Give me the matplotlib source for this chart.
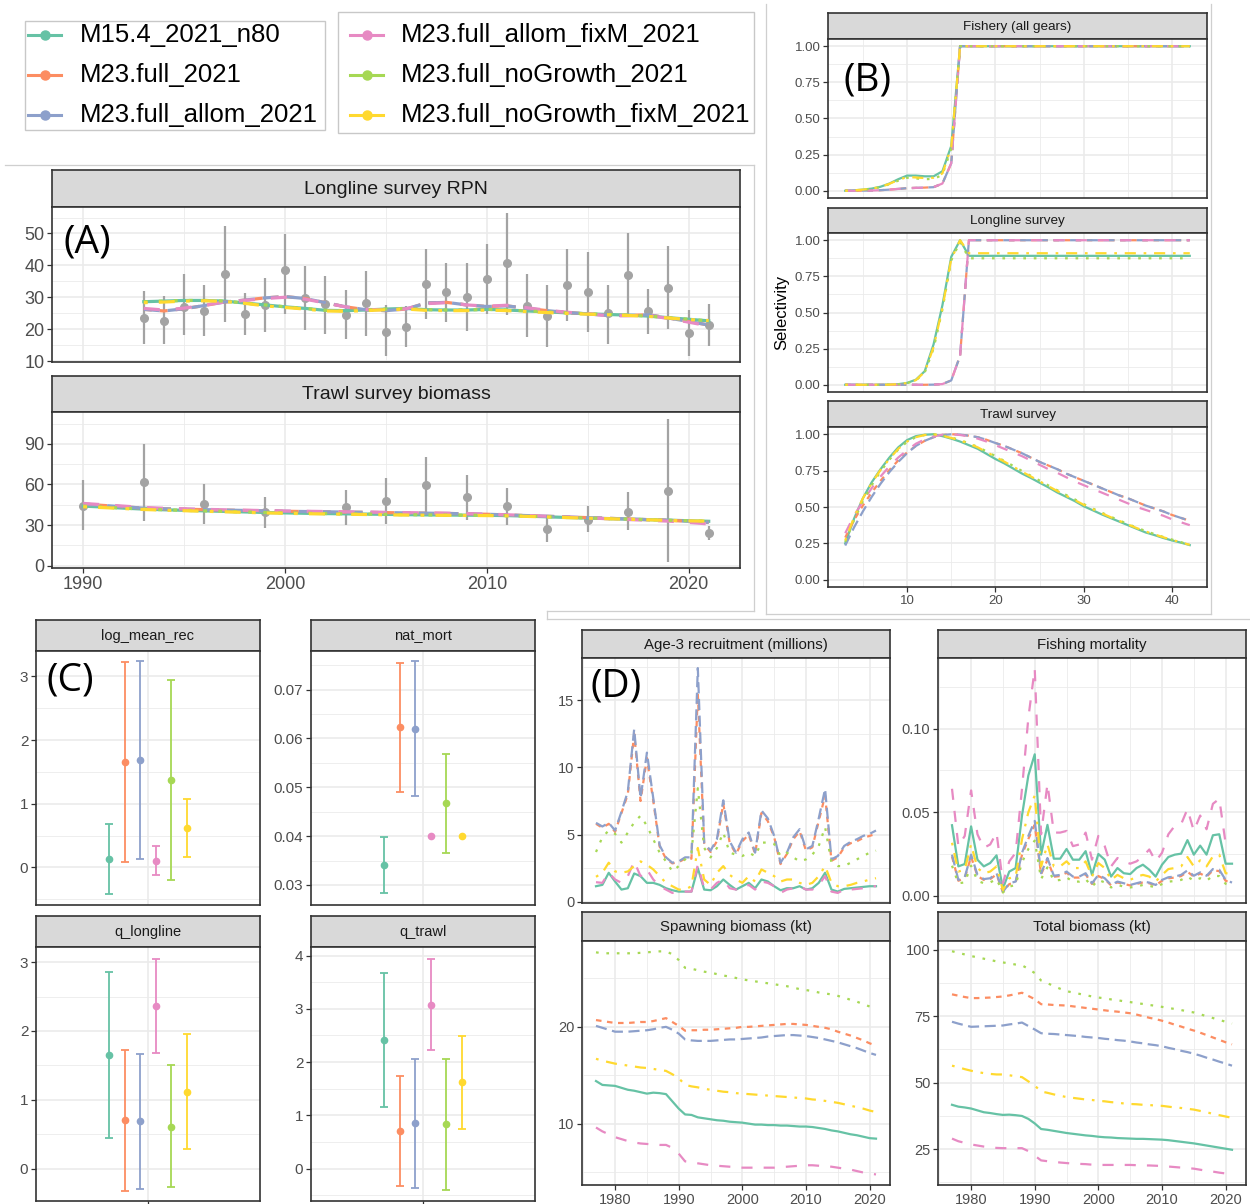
import numpy as np
import matplotlib.pyplot as plt
from matplotlib.patches import Rectangle
from matplotlib.ticker import FormatStrFormatter

plt.rcParams['font.family'] = ['Liberation Sans', 'DejaVu Sans']

# ---- models ----
models = ['M15.4_2021_n80', 'M23.full_2021', 'M23.full_allom_2021',
          'M23.full_allom_fixM_2021', 'M23.full_noGrowth_2021', 'M23.full_noGrowth_fixM_2021']
COLORS = ['#66C2A5', '#FC8D62', '#8DA0CB', '#E78AC3', '#A6D854', '#FFD92F']
STYLES = ['-', (0, (2.5, 2.5)), (0, (5, 2.5)), (0, (5, 5)), (0, (1.2, 3.5)), (0, (1.2, 3.5, 5, 3.5))]

# ---- (A) index fits ----
rpn_years = list(range(1993, 2022))
rpn_obs = [23.6, 22.7, 27.0, 25.7, 37.3, 24.6, 27.5, 38.4, 29.9, 28.0, 24.5, 28.1, 19.0, 20.8, 34.1,
           31.5, 30.1, 35.7, 40.6, 27.3, 24.1, 33.8, 31.8, 25.0, 37.0, 25.7, 32.9, 18.8, 21.2]
rpn_lo = [15.2, 15.2, 18.1, 17.8, 22.3, 18.1, 19.2, 24.8, 19.7, 18.6, 17.0, 18.0, 11.7, 14.3, 23.1,
          22.2, 19.5, 24.6, 24.4, 17.5, 14.3, 22.6, 19.2, 15.2, 24.1, 18.5, 19.9, 11.5, 14.6]
rpn_hi = [32.0, 30.4, 37.3, 33.9, 52.2, 31.2, 35.9, 49.9, 39.7, 36.7, 32.2, 38.3, 27.5, 27.3, 45.2,
          40.7, 40.7, 46.6, 56.5, 37.3, 33.8, 45.0, 44.1, 34.0, 50.2, 32.7, 46.0, 26.0, 27.8]
rpn_fit_base = [28.6, 28.8, 29.0, 29.0, 28.8, 28.2, 27.6, 27.0, 26.5, 25.9, 25.8, 26.0, 26.3, 26.5, 26.1,
                26.0, 26.0, 26.2, 26.0, 25.7, 25.4, 25.1, 24.8, 24.6, 24.4, 24.1, 23.6, 23.1, 22.6]
rpn_fit_fixm = [28.3, 28.5, 28.8, 28.9, 28.7, 28.1, 27.3, 26.8, 26.3, 25.7, 25.6, 25.8, 26.1, 26.3, 25.9,
                25.8, 25.8, 26.0, 25.8, 25.5, 25.2, 24.9, 24.7, 24.5, 24.3, 24.0, 23.5, 23.0, 22.7]
rpn_fit_full = [26.2, 25.7, 26.4, 27.4, 28.5, 29.1, 29.8, 30.2, 29.6, 28.3, 27.0, 26.1, 25.8, 26.3, 28.2,
                28.4, 27.6, 27.1, 27.3, 26.5, 25.8, 25.2, 24.8, 24.3, 24.3, 24.5, 23.5, 22.4, 21.3]
rpn_fit_allomfix = [26.5, 26.0, 26.6, 27.5, 28.5, 29.0, 29.6, 30.0, 29.4, 28.2, 27.0, 26.2, 26.0, 26.4, 28.0,
                    28.3, 27.6, 27.2, 27.5, 26.7, 25.9, 25.3, 24.8, 24.2, 24.2, 24.4, 23.3, 22.2, 21.0]
rpn_fits = [rpn_fit_base, rpn_fit_full, rpn_fit_full, rpn_fit_allomfix, rpn_fit_base, rpn_fit_fixm]

tw_years = [1990, 1993, 1996, 1999, 2003, 2005, 2007, 2009, 2011, 2013, 2015, 2017, 2019, 2021]
tw_obs = [44.3, 61.8, 45.8, 40.0, 43.1, 47.8, 59.9, 50.7, 43.8, 27.3, 34.0, 39.9, 55.4, 24.1]
tw_lo = [26.6, 33.2, 31.0, 27.8, 29.8, 31.0, 38.9, 34.0, 29.8, 17.5, 24.6, 26.1, 2.7, 19.2]
tw_hi = [63.0, 90.0, 60.6, 50.7, 56.2, 64.8, 80.1, 67.2, 57.4, 37.0, 43.8, 54.2, 108.4, 29.6]
tw_fit_years = list(range(1990, 2022))
tw_fit_base = [44.0, 43.3, 42.5, 41.8, 41.3, 40.9, 40.5, 40.1, 39.7, 39.3, 39.0, 38.7, 38.5, 38.3, 38.1, 37.9,
               37.7, 37.5, 37.4, 37.3, 37.2, 37.0, 36.6, 36.1, 35.6, 35.2, 34.8, 34.4, 34.0, 33.6, 33.2, 32.8]
tw_fit_fixm = [43.5, 42.9, 42.2, 41.5, 41.0, 40.6, 40.2, 39.8, 39.4, 39.0, 38.7, 38.4, 38.2, 38.0, 37.8, 37.6,
               37.4, 37.3, 37.2, 37.1, 37.0, 36.8, 36.4, 36.0, 35.5, 35.1, 34.7, 34.3, 33.9, 33.5, 33.1, 32.9]
tw_fit_full = [45.5, 44.5, 43.5, 42.5, 42.0, 41.7, 41.4, 41.1, 40.8, 40.5, 40.2, 40.0, 39.8, 39.6, 39.4, 39.2,
               39.0, 38.8, 38.6, 38.3, 38.0, 37.5, 37.0, 36.5, 36.0, 35.5, 35.0, 34.5, 34.0, 33.5, 32.8, 32.0]
tw_fit_allomfix = [46.0, 45.0, 44.0, 43.0, 42.4, 42.0, 41.6, 41.3, 41.0, 40.7, 40.4, 40.2, 40.0, 39.8, 39.6, 39.4,
                   39.2, 39.0, 38.8, 38.5, 38.1, 37.6, 37.1, 36.5, 35.9, 35.3, 34.7, 34.1, 33.5, 32.9, 32.0, 30.8]
tw_fits = [tw_fit_base, tw_fit_full, tw_fit_full, tw_fit_allomfix, tw_fit_base, tw_fit_fixm]

# ---- (B) selectivity, ages 3-42 ----
ages = list(range(3, 43))
fs_m15 = [0.0, 0.003, 0.008, 0.015, 0.028, 0.05, 0.08, 0.105, 0.105, 0.1, 0.1, 0.135, 0.31, 1.0] + [1.0] * 26
fs_nog = [0.0, 0.003, 0.007, 0.014, 0.025, 0.045, 0.07, 0.09, 0.085, 0.08, 0.082, 0.11, 0.29, 1.0] + [1.0] * 26
fs_nogfix = [0.0, 0.003, 0.008, 0.015, 0.027, 0.048, 0.075, 0.095, 0.092, 0.088, 0.09, 0.12, 0.3, 1.0] + [1.0] * 26
fs_full = [0.0, 0.0, 0.001, 0.002, 0.004, 0.008, 0.013, 0.018, 0.02, 0.022, 0.025, 0.05, 0.19, 1.0] + [1.0] * 26
sel_fishery = [fs_m15, fs_full, fs_full, fs_full, fs_nog, fs_nogfix]

ll_m15 = [0, 0, 0, 0, 0, 0.001, 0.004, 0.013, 0.035, 0.094, 0.28, 0.55, 0.885, 1.0] + [0.892] * 26
ll_nog = [0, 0, 0, 0, 0, 0.001, 0.003, 0.011, 0.03, 0.085, 0.25, 0.52, 0.86, 0.99] + [0.875] * 26
ll_nogfix = [0, 0, 0, 0, 0, 0.001, 0.004, 0.012, 0.032, 0.09, 0.26, 0.53, 0.87, 1.0] + [0.91] * 26
ll_full = [0, 0, 0, 0, 0, 0, 0, 0, 0, 0, 0.001, 0.005, 0.03, 0.2] + [1.0] * 26
sel_longline = [ll_m15, ll_full, ll_full, ll_full, ll_nog, ll_nogfix]

ts_m15 = [0.25, 0.42, 0.56, 0.67, 0.76, 0.84, 0.91, 0.96, 0.987, 0.997,
          1.0, 0.987, 0.97, 0.95, 0.925, 0.9, 0.865, 0.83, 0.8, 0.765,
          0.73, 0.7, 0.667, 0.635, 0.6, 0.57, 0.54, 0.505, 0.478, 0.45,
          0.425, 0.4, 0.375, 0.35, 0.325, 0.307, 0.287, 0.27, 0.255, 0.238]
ts_full = [0.29, 0.41, 0.51, 0.6, 0.68, 0.755, 0.82, 0.875, 0.92, 0.955,
           0.98, 0.995, 1.0, 0.998, 0.99, 0.98, 0.962, 0.94, 0.92, 0.895,
           0.87, 0.84, 0.81, 0.785, 0.76, 0.73, 0.705, 0.68, 0.655, 0.63,
           0.605, 0.58, 0.56, 0.535, 0.51, 0.49, 0.47, 0.445, 0.425, 0.405]
ts_allom = [0.235, 0.36, 0.47, 0.57, 0.66, 0.74, 0.81, 0.87, 0.92, 0.955,
            0.98, 0.995, 1.0, 0.998, 0.99, 0.98, 0.962, 0.94, 0.92, 0.895,
            0.87, 0.84, 0.81, 0.785, 0.76, 0.73, 0.705, 0.68, 0.655, 0.63,
            0.605, 0.58, 0.56, 0.535, 0.51, 0.49, 0.47, 0.445, 0.425, 0.405]
ts_allomfix = [0.32, 0.44, 0.54, 0.63, 0.71, 0.78, 0.84, 0.89, 0.935, 0.965,
               0.985, 0.997, 1.0, 0.995, 0.985, 0.97, 0.95, 0.925, 0.9, 0.875,
               0.85, 0.82, 0.79, 0.76, 0.735, 0.705, 0.675, 0.65, 0.625, 0.6,
               0.575, 0.55, 0.525, 0.5, 0.48, 0.46, 0.44, 0.415, 0.395, 0.375]
ts_nog = [0.26, 0.41, 0.54, 0.65, 0.745, 0.825, 0.895, 0.948, 0.98, 0.995,
          1.0, 0.992, 0.978, 0.96, 0.938, 0.913, 0.882, 0.85, 0.817, 0.783,
          0.748, 0.715, 0.682, 0.648, 0.615, 0.583, 0.552, 0.52, 0.49, 0.462,
          0.435, 0.408, 0.383, 0.358, 0.335, 0.314, 0.294, 0.276, 0.258, 0.241]
ts_nogfix = [0.27, 0.43, 0.56, 0.665, 0.755, 0.83, 0.9, 0.95, 0.98, 0.995,
             1.0, 0.99, 0.975, 0.958, 0.935, 0.91, 0.878, 0.845, 0.812, 0.778,
             0.743, 0.71, 0.677, 0.643, 0.61, 0.578, 0.547, 0.515, 0.486, 0.458,
             0.431, 0.405, 0.38, 0.355, 0.332, 0.312, 0.292, 0.274, 0.257, 0.24]
sel_trawl = [ts_m15, ts_full, ts_allom, ts_allomfix, ts_nog, ts_nogfix]

# ---- (C) parameter estimates with intervals ----
lmr_est = [0.13, 1.65, 1.69, 0.10, 1.37, 0.62]
lmr_lo = [-0.41, 0.09, 0.14, -0.12, -0.19, 0.16]
lmr_hi = [0.68, 3.22, 3.24, 0.33, 2.94, 1.08]
nm_est = [0.0341, 0.0623, 0.0620, 0.0400, 0.0467, 0.0400]
nm_lo = [0.0283, 0.0491, 0.0483, np.nan, 0.0365, np.nan]
nm_hi = [0.0398, 0.0755, 0.0758, np.nan, 0.0569, np.nan]
qll_est = [1.65, 0.71, 0.69, 2.37, 0.61, 1.11]
qll_lo = [0.44, -0.32, -0.29, 1.68, -0.27, 0.28]
qll_hi = [2.86, 1.73, 1.67, 3.05, 1.50, 1.95]
qtw_est = [2.41, 0.71, 0.85, 3.07, 0.83, 1.62]
qtw_lo = [1.15, -0.32, -0.37, 2.22, -0.41, 0.75]
qtw_hi = [3.68, 1.74, 2.06, 3.94, 2.06, 2.48]

# ---- (D) derived time series, 1977-2021 ----
years = list(range(1977, 2022))
rec_m15 = [1.15, 1.25, 2.15, 1.5, 0.9, 1.0, 2.1, 1.9, 1.4, 1.4, 1.25, 1.0, 0.85, 0.75, 0.75, 0.75, 2.5, 0.9, 0.85, 1.15,
           1.65, 1.25, 0.9, 1.15, 1.4, 1.0, 1.65, 1.5, 1.15, 0.85, 1.0, 1.0, 1.15, 0.9, 1.0, 1.4, 2.15, 0.9, 0.75, 0.95,
           1.0, 1.05, 1.1, 1.15, 1.15]
rec_full = [5.8, 5.5, 5.8, 5.2, 6.6, 8.0, 12.5, 7.5, 10.7, 7.5, 4.1, 3.2, 2.85, 2.95, 3.2, 3.2, 15.5, 4.3, 3.7, 4.5,
            7.3, 4.4, 3.55, 4.5, 5.0, 3.55, 6.6, 6.0, 4.8, 2.8, 3.55, 4.65, 5.25, 3.8, 4.05, 6.0, 7.9, 3.05, 3.3, 4.05,
            4.35, 4.5, 4.75, 4.9, 5.05]
rec_allom = [5.87, 5.6, 5.87, 5.3, 6.7, 8.2, 12.85, 7.7, 11.1, 7.7, 4.2, 3.3, 2.9, 3.0, 3.3, 3.3, 17.4, 4.4, 3.8, 4.65,
             7.55, 4.5, 3.65, 4.65, 5.15, 3.65, 6.8, 6.2, 4.9, 2.9, 3.65, 4.8, 5.4, 3.9, 4.15, 6.2, 8.4, 3.15, 3.4, 4.15,
             4.45, 4.65, 4.9, 5.05, 5.3]
rec_allomfix = [1.45, 1.4, 2.15, 1.65, 1.4, 1.9, 3.0, 1.9, 2.4, 1.65, 1.15, 0.9, 0.65, 0.75, 0.75, 0.75, 2.75, 1.0, 0.9, 1.4,
                1.65, 1.0, 0.9, 1.0, 1.25, 0.9, 1.5, 1.4, 1.15, 0.65, 0.9, 1.0, 1.15, 0.9, 0.9, 1.25, 1.9, 0.75, 0.65, 0.9,
                0.9, 0.95, 1.0, 1.15, 1.15]
rec_nog = [3.7, 4.8, 5.3, 5.05, 4.4, 5.15, 5.9, 6.4, 5.65, 4.65, 3.65, 3.0, 2.25, 2.65, 3.15, 3.65, 8.45, 4.0, 3.3, 4.0,
           5.15, 3.65, 3.5, 3.4, 3.65, 3.4, 4.4, 4.4, 4.3, 3.4, 3.65, 3.3, 3.0, 3.15, 3.5, 4.15, 5.55, 2.9, 2.65, 2.65,
           2.9, 3.15, 3.4, 3.65, 3.8]
rec_nogfix = [1.85, 2.15, 2.9, 2.25, 2.15, 2.25, 2.65, 3.0, 2.75, 2.4, 1.9, 1.4, 1.15, 0.9, 0.9, 1.15, 4.0, 1.65, 1.25, 2.15,
              2.65, 2.0, 1.65, 1.4, 1.9, 1.5, 2.4, 2.15, 1.9, 1.5, 1.65, 1.65, 1.4, 1.25, 1.4, 1.9, 2.65, 1.4, 1.15, 1.15,
              1.25, 1.4, 1.5, 1.65, 1.75]
recruitment = [rec_m15, rec_full, rec_allom, rec_allomfix, rec_nog, rec_nogfix]

f_m15 = [0.0422, 0.0176, 0.019, 0.0415, 0.0216, 0.0176, 0.0196, 0.0242, 0.0044, 0.0145,
         0.0166, 0.048, 0.072, 0.0846, 0.0246, 0.0424, 0.0222, 0.0222, 0.028, 0.0216,
         0.0216, 0.0267, 0.0125, 0.025, 0.0216, 0.0115, 0.0166, 0.0135, 0.013, 0.0166,
         0.0186, 0.0156, 0.0115, 0.0186, 0.0232, 0.0246, 0.0252, 0.0333, 0.0246, 0.03,
         0.0246, 0.0362, 0.0368, 0.0192, 0.0192]
f_full = [0.0235, 0.009, 0.0105, 0.0235, 0.0118, 0.0095, 0.01, 0.0128, 0.0022, 0.007,
          0.008, 0.0245, 0.034, 0.0425, 0.0128, 0.0215, 0.0114, 0.0118, 0.0138, 0.0109,
          0.0109, 0.0128, 0.0071, 0.0118, 0.01, 0.0062, 0.008, 0.0071, 0.0062, 0.0071,
          0.008, 0.0075, 0.0062, 0.009, 0.0105, 0.0109, 0.0118, 0.0144, 0.0114, 0.0133,
          0.0114, 0.0152, 0.0148, 0.009, 0.0075]
f_allom = [0.0246, 0.0095, 0.0111, 0.0246, 0.0125, 0.01, 0.0105, 0.0135, 0.0024, 0.0075,
           0.0085, 0.0257, 0.0358, 0.0448, 0.0135, 0.0226, 0.012, 0.0125, 0.0145, 0.0115,
           0.0115, 0.0135, 0.0075, 0.0125, 0.0105, 0.0065, 0.0085, 0.0075, 0.0065, 0.0075,
           0.0085, 0.0079, 0.0065, 0.0095, 0.0111, 0.0115, 0.0125, 0.0152, 0.012, 0.014,
           0.012, 0.016, 0.0156, 0.0095, 0.0079]
f_allomfix = [0.064, 0.0297, 0.0358, 0.063, 0.0368, 0.0287, 0.0307, 0.0378, 0.0075, 0.0206,
              0.0257, 0.064, 0.1065, 0.1358, 0.0368, 0.067, 0.0378, 0.0378, 0.0388, 0.0297,
              0.0307, 0.0378, 0.0216, 0.0358, 0.0297, 0.0176, 0.0226, 0.0206, 0.0192, 0.0206,
              0.0236, 0.0277, 0.0206, 0.0257, 0.0368, 0.0418, 0.0428, 0.0519, 0.0388, 0.048,
              0.0398, 0.055, 0.058, 0.0313, 0.0317]
f_nog = [0.018, 0.0075, 0.008, 0.018, 0.009, 0.0075, 0.008, 0.01, 0.002, 0.0055,
         0.0065, 0.02, 0.028, 0.033, 0.01, 0.017, 0.009, 0.0095, 0.011, 0.0085,
         0.0085, 0.01, 0.0055, 0.0095, 0.008, 0.005, 0.0065, 0.0055, 0.005, 0.0055,
         0.0065, 0.006, 0.005, 0.007, 0.0085, 0.0088, 0.0095, 0.0115, 0.009, 0.0105,
         0.009, 0.012, 0.0118, 0.0072, 0.006]
f_nogfix = [0.0317, 0.0145, 0.0156, 0.0307, 0.0166, 0.0135, 0.0145, 0.0176, 0.0034, 0.0105,
            0.0115, 0.0337, 0.05, 0.06, 0.0176, 0.0307, 0.0176, 0.0176, 0.0206, 0.0166,
            0.0166, 0.0206, 0.0115, 0.0196, 0.0166, 0.0095, 0.0125, 0.0105, 0.0095, 0.0115,
            0.0125, 0.0115, 0.0085, 0.0125, 0.016, 0.0166, 0.0176, 0.0232, 0.0176, 0.0212,
            0.0176, 0.0236, 0.0246, 0.0135, 0.0131]
fishing_mort = [f_m15, f_full, f_allom, f_allomfix, f_nog, f_nogfix]

ssb_m15 = [14.4, 14.0, 13.95, 13.9, 13.7, 13.5, 13.4, 13.25, 13.1, 13.2, 13.15, 13.05, 12.3, 11.55, 10.95,
           10.9, 10.65, 10.55, 10.45, 10.35, 10.3, 10.2, 10.15, 10.1, 10.0, 9.9, 9.9, 9.85, 9.85, 9.8,
           9.8, 9.75, 9.7, 9.7, 9.65, 9.55, 9.45, 9.3, 9.2, 9.05, 8.9, 8.8, 8.65, 8.5, 8.45]
ssb_full = [20.7, 20.6, 20.5, 20.4, 20.4, 20.4, 20.45, 20.5, 20.5, 20.6, 20.75, 20.9, 20.5, 20.1, 19.6,
            19.65, 19.65, 19.7, 19.7, 19.75, 19.8, 19.85, 19.9, 20.0, 20.0, 20.05, 20.1, 20.15, 20.2, 20.25,
            20.3, 20.3, 20.25, 20.2, 20.1, 20.0, 19.9, 19.75, 19.5, 19.3, 19.1, 18.85, 18.6, 18.3, 18.05]
ssb_allom = [20.1, 19.9, 19.7, 19.5, 19.5, 19.5, 19.55, 19.6, 19.65, 19.75, 19.9, 20.0, 19.7, 19.3, 18.7,
             18.6, 18.55, 18.55, 18.55, 18.6, 18.65, 18.7, 18.7, 18.75, 18.8, 18.85, 18.9, 19.0, 19.05, 19.1,
             19.15, 19.15, 19.1, 19.05, 18.95, 18.85, 18.7, 18.55, 18.4, 18.2, 18.0, 17.8, 17.55, 17.3, 17.1]
ssb_allomfix = [9.6, 9.2, 8.9, 8.6, 8.4, 8.2, 8.05, 7.95, 7.9, 7.85, 7.8, 7.8, 7.5, 6.9, 6.1,
                6.0, 5.9, 5.8, 5.7, 5.65, 5.6, 5.55, 5.5, 5.45, 5.45, 5.45, 5.45, 5.45, 5.45, 5.5,
                5.55, 5.6, 5.65, 5.7, 5.7, 5.65, 5.6, 5.55, 5.45, 5.35, 5.25, 5.1, 4.95, 4.85, 4.75]
ssb_nog = [27.7, 27.6, 27.6, 27.6, 27.6, 27.6, 27.6, 27.65, 27.7, 27.75, 27.8, 27.8, 27.5, 26.9, 26.1,
           26.0, 25.85, 25.7, 25.6, 25.45, 25.3, 25.2, 25.05, 24.9, 24.8, 24.7, 24.6, 24.5, 24.4, 24.3,
           24.2, 24.05, 23.9, 23.8, 23.7, 23.55, 23.45, 23.35, 23.2, 23.0, 22.8, 22.6, 22.35, 22.1, 21.9]
ssb_nogfix = [16.7, 16.5, 16.35, 16.2, 16.1, 16.0, 15.9, 15.8, 15.75, 15.65, 15.55, 15.45, 15.1, 14.7, 14.0,
              13.85, 13.75, 13.6, 13.5, 13.4, 13.3, 13.25, 13.15, 13.1, 13.05, 13.0, 12.95, 12.9, 12.85, 12.8,
              12.75, 12.7, 12.65, 12.6, 12.5, 12.45, 12.35, 12.25, 12.15, 12.0, 11.85, 11.7, 11.55, 11.35, 11.2]
spawning = [ssb_m15, ssb_full, ssb_allom, ssb_allomfix, ssb_nog, ssb_nogfix]

tb_m15 = [41.7, 41.0, 40.7, 40.3, 39.6, 38.9, 38.6, 38.2, 37.9, 38.0, 37.8, 37.5, 36.4, 34.7, 32.6,
          32.3, 31.9, 31.5, 31.1, 30.8, 30.5, 30.2, 30.0, 29.7, 29.5, 29.4, 29.2, 29.1, 29.0, 28.9,
          28.9, 28.8, 28.7, 28.6, 28.4, 28.1, 27.8, 27.5, 27.2, 26.8, 26.4, 26.0, 25.6, 25.2, 24.8]
tb_full = [83.2, 82.7, 82.2, 81.8, 81.8, 81.9, 82.0, 82.2, 82.4, 82.8, 83.3, 83.8, 82.6, 81.4, 79.5,
           79.4, 79.2, 79.1, 79.0, 78.7, 78.4, 78.1, 77.8, 77.5, 77.2, 76.9, 76.7, 76.4, 76.1, 75.6,
           75.0, 74.4, 73.9, 73.3, 72.6, 71.8, 71.1, 70.3, 69.6, 68.8, 67.9, 67.0, 66.1, 65.2, 64.4]
tb_allom = [72.9, 72.2, 71.6, 71.0, 71.1, 71.2, 71.3, 71.4, 71.5, 71.9, 72.2, 72.6, 71.3, 70.0, 68.6,
            68.4, 68.3, 68.1, 67.9, 67.7, 67.5, 67.2, 67.0, 66.8, 66.5, 66.3, 66.0, 65.8, 65.5, 65.1,
            64.8, 64.4, 64.1, 63.7, 63.1, 62.6, 62.0, 61.5, 60.9, 60.2, 59.4, 58.7, 57.9, 57.2, 56.4]
tb_allomfix = [29.0, 28.0, 27.4, 26.8, 26.4, 26.0, 25.7, 25.5, 25.4, 25.4, 25.4, 25.4, 24.3, 22.6, 20.8,
               20.5, 20.3, 20.0, 19.8, 19.6, 19.5, 19.4, 19.2, 19.1, 19.1, 19.1, 19.1, 19.1, 19.1, 19.0,
               18.9, 18.9, 18.8, 18.7, 18.5, 18.3, 18.1, 17.9, 17.7, 17.3, 16.9, 16.6, 16.2, 15.9, 15.6]
tb_nog = [99.4, 98.8, 98.2, 97.6, 97.1, 96.6, 96.1, 95.6, 95.2, 94.8, 94.4, 94.1, 92.8, 91.2, 88.4,
          87.4, 86.3, 85.3, 84.4, 83.9, 83.4, 82.9, 82.4, 82.0, 81.7, 81.3, 81.0, 80.6, 80.3, 79.9,
          79.6, 79.2, 78.9, 78.5, 78.1, 77.7, 77.3, 76.8, 76.4, 75.7, 75.0, 74.3, 73.6, 72.9, 72.2]
tb_nogfix = [56.4, 55.8, 55.1, 54.5, 54.0, 53.6, 53.3, 53.1, 53.1, 52.8, 52.4, 52.1, 50.5, 48.9, 46.7,
             46.2, 45.6, 45.1, 44.6, 44.3, 44.0, 43.7, 43.5, 43.2, 43.0, 42.7, 42.5, 42.2, 42.0, 41.9,
             41.7, 41.6, 41.4, 41.3, 41.0, 40.7, 40.5, 40.2, 39.9, 39.4, 38.9, 38.3, 37.8, 37.3, 36.8]
total_bio = [tb_m15, tb_full, tb_allom, tb_allomfix, tb_nog, tb_nogfix]

# ---- figure helpers ----
W, H = 1250, 1204
GRID = '#EBEBEB'
DARK = '#333333'
TXT = '#4D4D4D'
OBS = '#A3A3A3'

fig = plt.figure(figsize=(W / 100, H / 100), dpi=100)
fig.patch.set_facecolor('white')


def box(x0, y0, x1, y1):
    return fig.add_axes([x0 / W, 1 - y1 / H, (x1 - x0) / W, (y1 - y0) / H])


def strip(x0, y0, x1, y1, label, size):
    ax = box(x0, y0, x1, y1)
    ax.set_facecolor('#D9D9D9')
    ax.set_xticks([])
    ax.set_yticks([])
    for s in ax.spines.values():
        s.set_color(DARK)
        s.set_linewidth(1.2)
    ax.text(0.5, 0.48, label, transform=ax.transAxes, ha='center', va='center',
            fontsize=size, color='#1A1A1A')


def panel(x0, y0, x1, y1, xlim, ylim, xmaj, xmin, ymaj, ymin, size, xlabels=True, yfmt=None):
    ax = box(x0, y0, x1, y1)
    ax.set_xlim(*xlim)
    ax.set_ylim(*ylim)
    ax.set_xticks(xmaj)
    ax.set_xticks(xmin, minor=True)
    ax.set_yticks(ymaj)
    ax.set_yticks(ymin, minor=True)
    ax.grid(which='major', color=GRID, lw=1.2)
    ax.grid(which='minor', color=GRID, lw=0.6)
    ax.set_axisbelow(True)
    ax.tick_params(which='minor', length=0)
    ax.tick_params(which='major', length=3.5, width=0.9, color=DARK, labelcolor=TXT,
                   labelsize=size, pad=2)
    if not xlabels:
        ax.tick_params(axis='x', which='major', length=0, labelbottom=False)
    if yfmt:
        ax.yaxis.set_major_formatter(FormatStrFormatter(yfmt))
    for s in ax.spines.values():
        s.set_color(DARK)
        s.set_linewidth(1.2)
    return ax


# ---- (A) ----
ax = None
strip(52, 170, 740, 207, 'Longline survey RPN', 14)
ax = panel(52, 207, 740, 362, (1988.45, 2022.55), (9.7, 58.3), [1990, 2000, 2010, 2020],
           [1995, 2005, 2015], [10, 20, 30, 40, 50], [15, 25, 35, 45, 55], 13, xlabels=False)
ax.vlines(rpn_years, rpn_lo, rpn_hi, color=OBS, lw=1.6, zorder=2)
ax.plot(rpn_years, rpn_obs, 'o', color=OBS, ms=5.5, zorder=2)
for i in range(6):
    ax.plot(rpn_years, rpn_fits[i], color=COLORS[i], ls=STYLES[i], lw=2.3, zorder=3)

strip(52, 376, 740, 412, 'Trawl survey biomass', 14)
ax = panel(52, 412, 740, 568, (1988.45, 2022.55), (-1.7, 113.5), [1990, 2000, 2010, 2020],
           [1995, 2005, 2015], [0, 30, 60, 90], [15, 45, 75, 105], 13)
ax.vlines(tw_years, tw_lo, tw_hi, color=OBS, lw=1.6, zorder=2)
ax.plot(tw_years, tw_obs, 'o', color=OBS, ms=5.5, zorder=2)
for i in range(6):
    ax.plot(tw_fit_years, tw_fits[i], color=COLORS[i], ls=STYLES[i], lw=2.3, zorder=3)

# ---- (B) ----
sel_sets = [('Fishery (all gears)', 13, 39, 198, sel_fishery, False),
            ('Longline survey', 208, 233, 392, sel_longline, False),
            ('Trawl survey', 401, 427, 587, sel_trawl, True)]
for title, ys, yp, yb, curves, lab in sel_sets:
    strip(828, ys, 1207, yp, title, 9.7)
    ax = panel(828, yp, 1207, yb, (1.05, 43.95), (-0.05, 1.05), [10, 20, 30, 40], [5, 15, 25, 35],
               [0, 0.25, 0.5, 0.75, 1.0], [0.125, 0.375, 0.625, 0.875], 9.5, xlabels=lab, yfmt='%.2f')
    for i in range(6):
        ax.plot(ages, curves[i], color=COLORS[i], ls=STYLES[i], lw=1.6)
fig.text(782 / W, 1 - 312 / H, 'Selectivity', rotation=90, ha='center', va='center', fontsize=12)

# ---- (C) ----
xpos = 1 + (np.arange(6) - 2.5) * 0.0833
par_sets = [('log_mean_rec', 36, 620, 651, 905, (-0.59, 3.40), [0, 1, 2, 3], [-0.5, 0.5, 1.5, 2.5], None,
             lmr_est, lmr_lo, lmr_hi, False),
            ('nat_mort', 311, 620, 651, 905, (0.0259, 0.0779), [0.03, 0.04, 0.05, 0.06, 0.07],
             [0.035, 0.045, 0.055, 0.065, 0.075], '%.2f', nm_est, nm_lo, nm_hi, False),
            ('q_longline', 36, 916, 947, 1201, (-0.47, 3.22), [0, 1, 2, 3], [0.5, 1.5, 2.5], None,
             qll_est, qll_lo, qll_hi, True),
            ('q_trawl', 311, 916, 947, 1201, (-0.61, 4.16), [0, 1, 2, 3, 4], [-0.5, 0.5, 1.5, 2.5, 3.5], None,
             qtw_est, qtw_lo, qtw_hi, True)]
for title, x0, ys, yp, yb, ylim, ymaj, ymin, fmt, est, lo, hi, lab in par_sets:
    strip(x0, ys, x0 + 224, yp, title, 10.5)
    ax = panel(x0, yp, x0 + 224, yb, (0.4, 1.6), ylim, [1], [], ymaj, ymin, 11, xlabels=lab, yfmt=fmt)
    ax.set_xticklabels([''])
    for i in range(6):
        if not np.isnan(lo[i]):
            ax.errorbar(xpos[i], est[i], yerr=[[est[i] - lo[i]], [hi[i] - est[i]]], fmt='none',
                        ecolor=COLORS[i], elinewidth=1.3, capsize=3, capthick=1.3)
        ax.plot(xpos[i], est[i], 'o', color=COLORS[i], ms=4.5)

# ---- (D) ----
ts_sets = [('Age-3 recruitment (millions)', 582, 630, 658, 903, recruitment, (-0.1, 18.15),
            [0, 5, 10, 15], [2.5, 7.5, 12.5, 17.5], None, False),
           ('Fishing mortality', 938, 630, 658, 903, fishing_mort, (-0.0043, 0.1422),
            [0, 0.05, 0.10], [0.025, 0.075, 0.125], '%.2f', False),
           ('Spawning biomass (kt)', 582, 912, 941, 1185, spawning, (3.66, 28.87),
            [10, 20], [5, 15, 25], None, True),
           ('Total biomass (kt)', 938, 912, 941, 1185, total_bio, (11.56, 103.25),
            [25, 50, 75, 100], [12.5, 37.5, 62.5, 87.5], None, True)]
for title, x0, ys, yp, yb, series, ylim, ymaj, ymin, fmt, lab in ts_sets:
    strip(x0, ys, x0 + 308, yp, title, 10.8)
    ax = panel(x0, yp, x0 + 308, yb, (1974.8, 2023.2), ylim, [1980, 1990, 2000, 2010, 2020],
               [1975, 1985, 1995, 2005, 2015], ymaj, ymin, 10.5, xlabels=lab, yfmt=fmt)
    for i in range(6):
        ax.plot(years, series[i], color=COLORS[i], ls=STYLES[i], lw=1.6)

# ---- panel letters ----
for letter, (lx, ly) in {'(A)': (87, 243), '(B)': (868, 80), '(C)': (70, 680), '(D)': (616, 686)}.items():
    fig.text(lx / W, 1 - ly / H, letter, fontsize=28, family='Open Sans', ha='center', va='center')

# ---- legend and panel frames ----
lax = fig.add_axes([0, 0, 1, 1], zorder=10)
lax.set_xlim(0, W)
lax.set_ylim(H, 0)
lax.axis('off')
lax.add_patch(Rectangle((25, 21), 300, 109, fill=False, ec='#C8C8C8', lw=1))
lax.add_patch(Rectangle((338, 12), 416, 121, fill=False, ec='#C8C8C8', lw=1))
for i, name in enumerate(models):
    col, row = divmod(i, 3)
    hx = [28, 350][col]
    tx = [80, 401][col]
    yy = 35 + 40 * row
    lax.plot([hx, hx + 33], [yy, yy], color=COLORS[i], lw=2.2)
    lax.plot(hx + 16.5, yy, 'o', color=COLORS[i], ms=6.5)
    lax.text(tx, yy, name, fontsize=18.5, ha='left', va='center', color='black')

frame_segments = [((5, 165), (754, 165)), ((754, 165), (754, 611)), ((547, 611), (754, 611)),
                  ((766, 4), (766, 614)), ((1211, 4), (1211, 614)), ((766, 614), (1211, 614)),
                  ((547, 611), (547, 619)), ((547, 619), (1250, 619))]
for (xa, ya), (xb, yb) in frame_segments:
    lax.plot([xa, xb], [ya, yb], color='#CFCFCF', lw=0.9)

fig.savefig('out.png', dpi=100)
